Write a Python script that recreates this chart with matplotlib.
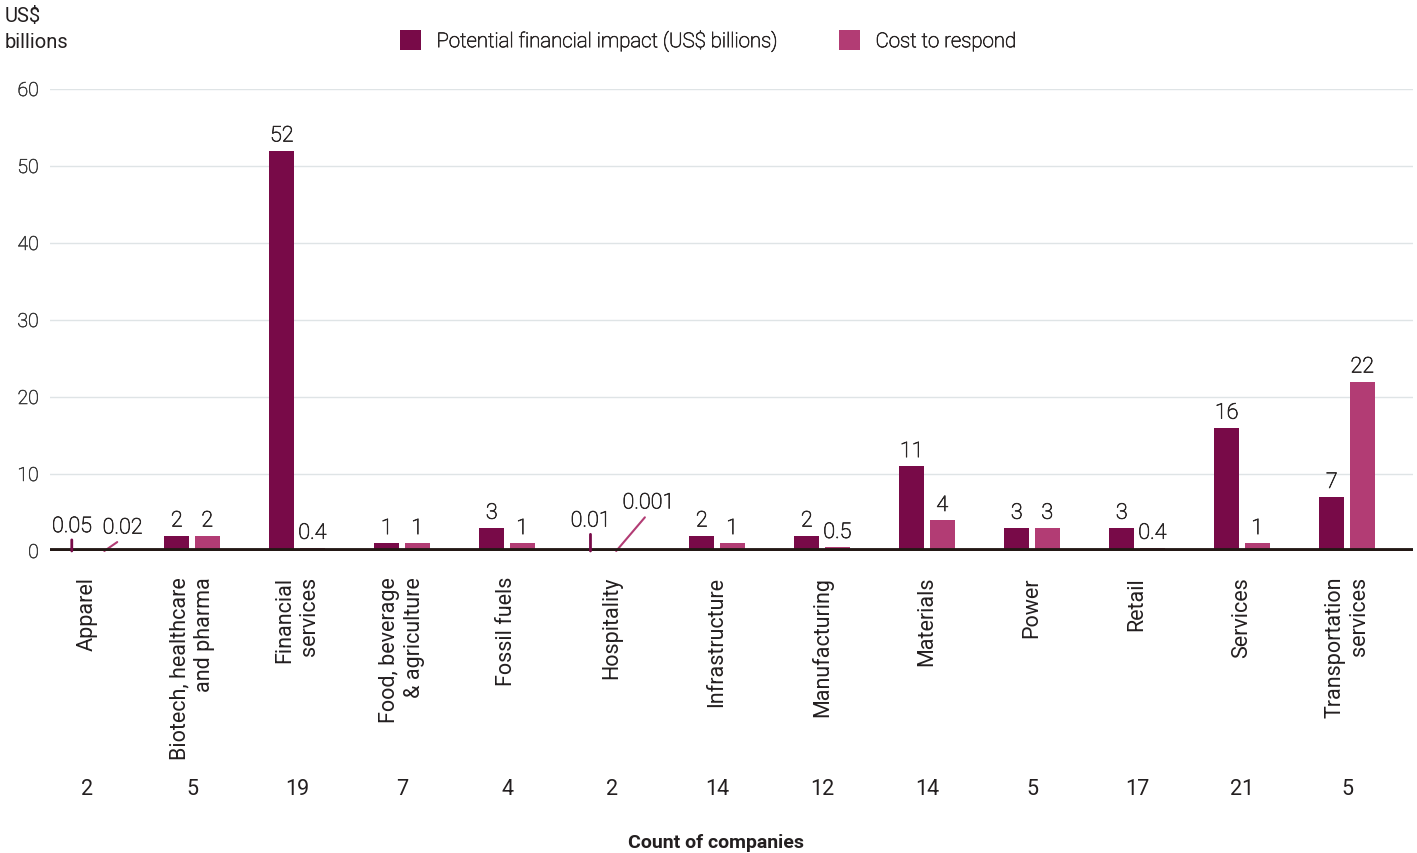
import matplotlib
matplotlib.use("Agg")
import matplotlib.pyplot as plt
import matplotlib.patheffects as pe
import numpy as np

plt.rcParams['font.family'] = ['Roboto', 'DejaVu Sans']

# sectors, company counts and the two value series (US$ billions)
categories = ["Apparel", "Biotech, healthcare\nand pharma", "Financial\nservices",
              "Food, beverage\n& agriculture", "Fossil fuels", "Hospitality",
              "Infrastructure", "Manufacturing", "Materials", "Power", "Retail",
              "Services", "Transportation\nservices"]
company_counts = [2, 5, 19, 7, 4, 2, 14, 12, 14, 5, 17, 21, 5]
impact = [0.05, 2, 52, 1, 3, 0.01, 2, 2, 11, 3, 3, 16, 7]
cost = [0.02, 2, 0.4, 1, 1, 0.001, 1, 0.5, 4, 3, 0.4, 1, 22]
impact_labels = ["0.05", "2", "52", "1", "3", "0.01", "2", "2", "11", "3", "3", "16", "7"]
cost_labels = ["0.02", "2", "0.4", "1", "1", "0.001", "1", "0.5", "4", "3", "0.4", "1", "22"]

DARK = "#780a48"
PINK = "#b23c74"
TEXT = "#231f20"
LIGHT_TEXT = "#2a2626"
# thin-weight text gets a hairline stroke so it doesn't wash out
thicken = [pe.withStroke(linewidth=0.5, foreground=LIGHT_TEXT)]
SMALL = 0.1  # values below this get a leader line instead of a bar label

fig = plt.figure(figsize=(14.17, 8.54), dpi=100)
ax = fig.add_axes([50 / 1417, 1 - 552 / 854, 1363 / 1417, 462 / 854])

x = np.arange(len(categories))
off = 0.145
w = 0.24
ax.bar(x - off, impact, w, color=DARK, zorder=2, label="Potential financial impact (US$ billions)")
ax.bar(x + off, cost, w, color=PINK, zorder=2, label="Cost to respond")

lbl_kw = dict(ha="center", va="bottom", fontsize=15.5, color=LIGHT_TEXT, fontweight="light")
labels = []
for xi, v, s in zip(x, impact, impact_labels):
    if v < SMALL:
        # tiny values: a short stalk instead of a visible bar
        if v > 0.02:
            xy, dy = (xi - off, 0), 10
        else:
            xy, dy = (xi - off - 0.06, 0), 14
        t = ax.annotate(s, xy=xy, xytext=(0, dy), textcoords="offset points",
                        arrowprops=dict(arrowstyle="-", color=DARK, lw=2, relpos=(0.5, 0),
                                        shrinkA=0, shrinkB=0), zorder=4, **lbl_kw)
    else:
        t = ax.annotate(s, xy=(xi - off, v), xytext=(0, 3), textcoords="offset points", **lbl_kw)
    labels.append(t)
for xi, v, s in zip(x, cost, cost_labels):
    if v < SMALL:
        if v > 0.005:
            xy, dxy = (xi + off + 0.02, 0), (13, 9)
        else:
            xy, dxy = (xi + 0.04, 0), (23, 27)
        t = ax.annotate(s, xy=xy, xytext=dxy, textcoords="offset points",
                        arrowprops=dict(arrowstyle="-", color=PINK, lw=1.5, relpos=(0.5, 0),
                                        shrinkA=1, shrinkB=0), zorder=1, **lbl_kw)
    else:
        t = ax.annotate(s, xy=(xi + off, v), xytext=(0, 3), textcoords="offset points", **lbl_kw)
    labels.append(t)
for t in labels:
    t.set_path_effects(thicken)

ax.set_xlim(-37 / 105, 12 + 66 / 105)
ax.set_ylim(0, 60)
ax.set_yticks(range(0, 61, 10))
ax.yaxis.grid(True, color="#dfe4e6", lw=1, zorder=0)
ax.axhline(0, color="#231815", lw=4.2, zorder=3)
for sp in ax.spines.values():
    sp.set_visible(False)
ax.tick_params(axis="y", length=0, pad=8, labelsize=14, labelcolor="#3a3a3a")
for t in ax.get_yticklabels():
    t.set_fontweight("light")
    t.set_path_effects([pe.withStroke(linewidth=0.4, foreground="#3a3a3a")])
ax.set_xticks(x)
ax.set_xticklabels(categories, rotation=90, ha="center", va="top", multialignment="right",
                   fontsize=15.5, color=TEXT)
ax.tick_params(axis="x", length=0, pad=18)

# company counts under each sector
for xi, n in zip(x, company_counts):
    ax.text(xi, -0.515, str(n), transform=ax.get_xaxis_transform(), ha="center", va="center",
            fontsize=15.5, color=TEXT)
fig.text(716 / 1417, 1 - 843 / 854, "Count of companies", ha="center", va="center",
         fontsize=14, fontweight="bold", color=TEXT)

fig.text(5 / 1417, 1 - 7 / 854, "US$\nbillions", ha="left", va="top", fontsize=14.5,
         color=TEXT, linespacing=1.45)

leg = fig.legend(loc="center", bbox_to_anchor=(708 / 1417, 1 - 42 / 854), ncol=2, frameon=False,
                 handlelength=1.05, handleheight=1.15, handletextpad=0.75, columnspacing=3.0,
                 prop=dict(size=14.7, weight="light"), labelcolor=LIGHT_TEXT)
for t in leg.get_texts():
    t.set_path_effects(thicken)

fig.savefig("out.png", dpi=100, facecolor="white")
